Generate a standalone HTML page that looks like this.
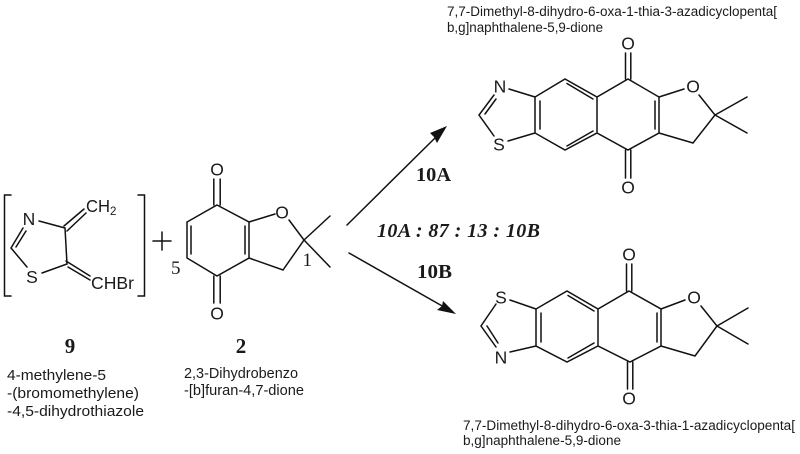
<!DOCTYPE html>
<html>
<head>
<meta charset="utf-8">
<style>
html,body{margin:0;padding:0;background:#fff;width:800px;height:454px;overflow:hidden}
svg{display:block;filter:blur(0.35px)}
.b{fill:none;stroke:#111;stroke-width:1.5;stroke-linecap:round;stroke-linejoin:miter}
text{fill:#1a1a1a}
.a{font-family:"Liberation Sans",sans-serif}
.s{font-family:"Liberation Serif",serif}
.at{font-family:"Liberation Sans",sans-serif;font-size:17.5px;text-anchor:middle}
</style>
</head>
<body>
<svg width="800" height="454" viewBox="0 0 800 454" xmlns="http://www.w3.org/2000/svg">
<!-- brackets -->
<path class="b" d="M11 195H4.500V296H11M138 195H144.500V296H138"/>
<!-- compound 9 -->
<path class="b" d="M39 221L65 228L67 264L42 273M27 267L11 248L23 228M16 247L26 231M64 226L84 209M67 231L86 213M66 261L90 276M68 267L90 280"/>
<text class="at" x="29" y="225">N</text>
<text class="at" x="32" y="283">S</text>
<text class="a" x="86" y="212" font-size="17.500" textLength="24" lengthAdjust="spacingAndGlyphs">CH</text>
<text class="a" x="110" y="215" font-size="11.500">2</text>
<text class="a" x="91" y="289" font-size="17.500" textLength="43" lengthAdjust="spacingAndGlyphs">CHBr</text>
<!-- plus -->
<path class="b" d="M153 241H171M162 232V250"/>
<!-- compound 2 -->
<path class="b" d="M217 205L249 222V258L217 276L187 258V222ZM191 226V254M245 226V254M213.800 205V179M220.200 205V179M213.800 276V303M220.200 276V303M249 222L275 214M289 220L304 240L283 270L249 258M304 240L330 216M304 240L330 267"/>
<text class="at" x="217" y="175.500">O</text>
<text class="at" x="217" y="319.500">O</text>
<text class="at" x="282" y="218.500">O</text>
<text class="s" x="171" y="274" font-size="19" fill="#333">5</text>
<text class="s" x="302.500" y="266" font-size="19" fill="#333">1</text>
<!-- labels left -->
<text class="s" x="70" y="353" font-size="21" font-weight="bold" text-anchor="middle">9</text>
<text class="s" x="241" y="353" font-size="21" font-weight="bold" text-anchor="middle">2</text>
<text class="a" x="7" y="380" font-size="14.800" textLength="99" lengthAdjust="spacingAndGlyphs">4-methylene-5</text>
<text class="a" x="7" y="398" font-size="14.800" textLength="132" lengthAdjust="spacingAndGlyphs">-(bromomethylene)</text>
<text class="a" x="7" y="416" font-size="14.800" textLength="137" lengthAdjust="spacingAndGlyphs">-4,5-dihydrothiazole</text>
<text class="a" x="184" y="378" font-size="14.800" textLength="114" lengthAdjust="spacingAndGlyphs">2,3-Dihydrobenzo</text>
<text class="a" x="184" y="395" font-size="14.800" textLength="120" lengthAdjust="spacingAndGlyphs">-[b]furan-4,7-dione</text>
<!-- arrows -->
<path class="b" d="M347 225L436 137"/>
<path d="M447 126L430 133L434 137L437 143Z" fill="#111"/>
<path class="b" d="M349 253L444 307"/>
<path d="M456 314L437 310L442 306L443 301Z" fill="#111"/>
<text class="s" x="416" y="181" font-size="20" font-weight="bold" textLength="35" lengthAdjust="spacingAndGlyphs">10A</text>
<text class="s" x="417" y="278" font-size="20" font-weight="bold" textLength="35" lengthAdjust="spacingAndGlyphs">10B</text>
<text class="s" x="377" y="237" font-size="20" font-weight="bold" font-style="italic" textLength="163" lengthAdjust="spacing">10A : 87 : 13 : 10B</text>
<!-- top product -->
<text class="a" x="447" y="16" font-size="13.400" textLength="330" lengthAdjust="spacingAndGlyphs">7,7-Dimethyl-8-dihydro-6-oxa-1-thia-3-azadicyclopenta[</text>
<text class="a" x="447" y="32" font-size="13.400" textLength="156" lengthAdjust="spacingAndGlyphs">b,g]naphthalene-5,9-dione</text>
<path class="b" d="M628 79L659 97V133L628 150L597 133L565 150L535 133V97L565 79L597 97ZM597 97V133M655 101V129M540 101V129M567 83.500L593 99M567 146L593 131M625.500 79V53M630.800 79V53M625.500 150V178M630.800 150V178M509 89L535 97M508 141L535 133M494 95L479 115L494 136M485 114L496 99M659 97L684 89M699 95L715 115L693 143L659 133M715 115L747 97M715 115L747 133"/>
<text class="at" x="500" y="92.500">N</text>
<text class="at" x="499" y="150.500">S</text>
<text class="at" x="628" y="49.500">O</text>
<text class="at" x="628" y="193.500">O</text>
<text class="at" x="693" y="92.500">O</text>
<!-- bottom product -->
<path class="b" d="M629 291L661 309V346L630 362L598 346L567 362L536 346V309L567 291L598 309ZM598 309V346M657 313V342M541 313V342M568 295.500L594 311M568 358L594 343M626.500 291V264M631.800 291V264M627.500 362V389M632.800 362V389M510 300L536 309M510 352L536 346M496 304L481 326L496 347M487 326L498 343M661 309L685 300M701 306L717 326L695 356L661 346M717 326L748 308M717 326L748 344"/>
<text class="at" x="501" y="303.500">S</text>
<text class="at" x="501" y="363.500">N</text>
<text class="at" x="629" y="260.500">O</text>
<text class="at" x="629" y="404.500">O</text>
<text class="at" x="694" y="303.500">O</text>
<text class="a" x="463" y="430" font-size="13.400" textLength="332" lengthAdjust="spacingAndGlyphs">7,7-Dimethyl-8-dihydro-6-oxa-3-thia-1-azadicyclopenta[</text>
<text class="a" x="463" y="445" font-size="13.400" textLength="158" lengthAdjust="spacingAndGlyphs">b,g]naphthalene-5,9-dione</text>
</svg>
</body>
</html>
